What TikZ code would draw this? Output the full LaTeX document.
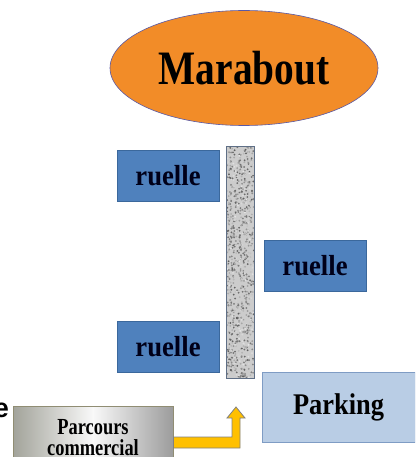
\documentclass[tikz,border=0pt]{standalone}
\usepackage{fontspec}
\setmainfont{Liberation Serif}
\newfontfamily\marfont[FakeStretch=0.82]{Liberation Serif}
\newfontfamily\rufont[FakeStretch=0.92]{Liberation Serif}
\newfontfamily\pcfont[FakeStretch=0.8]{Liberation Serif}
\newfontfamily\pkfont[FakeStretch=0.88]{Liberation Serif}
\newfontfamily\efont{Liberation Sans}
\usetikzlibrary{shapes.geometric,calc}
\definecolor{orangefill}{HTML}{F28C28}
\definecolor{bluefill}{HTML}{4F81BD}
\definecolor{blueedge}{HTML}{3B689C}
\definecolor{lightblue}{HTML}{B9CDE5}
\definecolor{lightedge}{HTML}{7F9CC4}
\definecolor{gold}{HTML}{FFC000}
\definecolor{roadedge}{HTML}{5F6F86}
\definecolor{pcleft}{HTML}{A2A39A}
\definecolor{pcright}{HTML}{9C9C9C}
\tikzset{
  ruellebox/.style={draw=blueedge, line width=0.8pt, fill=bluefill, minimum width=102pt, minimum height=51pt, inner sep=0pt,
    font=\rufont\fontsize{29}{30}\selectfont\bfseries, text=black!90!blue},
  parkbox/.style={draw=lightedge, line width=0.8pt, fill=lightblue, minimum width=153pt, minimum height=70pt, inner sep=0pt,
    font=\pkfont\fontsize{30}{30}\selectfont\bfseries},
  blockarrow/.style={draw=gray, line width=0.8pt, fill=gold, line join=miter}
}
\begin{document}
\begin{tikzpicture}[x=1pt,y=-1pt]
\useasboundingbox (0,0) rectangle (415,457);
\begin{scope}
\clip (0,0) rectangle (415,457);
% ellipse
\node[ellipse, draw=gray!70!blue, line width=0.6pt, fill=orangefill, minimum width=268pt, minimum height=115pt, inner sep=0pt,
  font=\marfont\fontsize{48}{50}\selectfont\bfseries] (mar) at (244,68) {Marabout};
% road
\node[draw=none, fill=gray!40, minimum width=27pt, minimum height=231pt, inner sep=0pt] (road) at (240.5,262.5) {};
\begin{scope}
\clip (road.south west) rectangle (road.north east);
\pgfmathsetseed{7}
\foreach \i in {1,...,900}{
  \pgfmathsetmacro\xx{227+27*rnd}
  \pgfmathsetmacro\yy{147+231*rnd}
  \pgfmathsetmacro\sh{int(10+55*rnd)}
  \fill[black!\sh] (\xx,\yy) circle (1.0);
}
\end{scope}
\draw[roadedge, line width=0.8pt] (road.south west) rectangle (road.north east);
% ruelles
\node[ruellebox] (r1) at (168,175.5) {ruelle};
\node[ruellebox] (r2) at (315,265.5) {ruelle};
\node[ruellebox] (r3) at (168,347) {ruelle};
% parking
\node[parkbox] (park) at (338.5,407) {Parking};
% parcours commercial
\node[draw=gray!80!olive, line width=0.8pt, left color=pcleft, right color=pcright, middle color=gray!5,
  minimum width=160pt, minimum height=63pt, inner sep=0pt, align=center,
  font=\pcfont\fontsize{23}{21}\selectfont\bfseries] (pc) at (93,438) {Parcours\\commercial};
% cut-off letter
\node[anchor=base east, inner sep=0pt, font=\efont\fontsize{27}{30}\selectfont\bfseries] (e) at (9,417) {e};
% bent block arrow
\coordinate (tip) at (236,407);
\draw[blockarrow] (pc.east |- 0,437) -| ($(tip)+(-4,11)$) -- ($(tip)+(-9,11)$) -- (tip) -- ($(tip)+(9,11)$) -- ($(tip)+(4,11)$) |- (pc.east |- 0,448) -- cycle;
\end{scope}
\end{tikzpicture}
\end{document}
